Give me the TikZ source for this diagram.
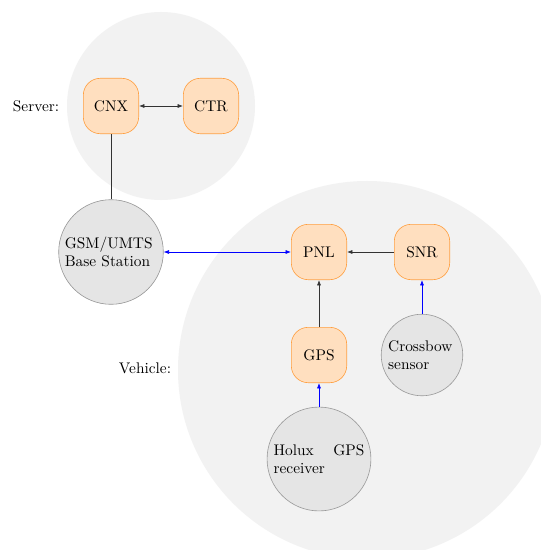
\documentclass[tikz,border=0pt]{standalone}
\usetikzlibrary{arrows.meta}
\begin{document}
\begin{tikzpicture}[x=0.65pt,y=-0.65pt,
  region/.style={circle,fill=black!5,draw=none},
  proc/.style={rectangle,rounded corners=11pt,draw=orange!75,fill=orange!25,minimum width=36pt,minimum height=36pt,inner sep=2pt},
  dev/.style={circle,draw=black!40,fill=black!10,inner sep=0pt,align=justify},
  blk/.style={draw=black!80,thin},
  blu/.style={draw=blue,thin},
  tip/.style={-{Latex[length=3.5pt,width=2.6pt]}},
  tips/.style={{Latex[length=3.5pt,width=2.6pt]}-{Latex[length=3.5pt,width=2.6pt]}}
]
\clip (0,0) rectangle (541,550);
\useasboundingbox (0,0) rectangle (541,550);
\fill[white] (0,0) rectangle (541,550);
\node[region,minimum size=122.2pt] (srv) at (161,106) {};
\node[region,minimum size=245.7pt] (veh) at (367,370) {};
\node (srvl) at (36,106) {Server:};
\node (vehl) at (145,368) {Vehicle:};
\node[proc] (cnx) at (111,106) {CNX};
\node[proc] (ctr) at (211,106) {CTR};
\node[dev,minimum size=68pt,text width=60pt] (gsm) at (111,252) {GSM/UMTS Base Station};
\node[proc] (pnl) at (319,252) {PNL};
\node[proc] (snr) at (422,252) {SNR};
\node[proc] (gps) at (319,355) {GPS};
\node[dev,minimum size=53pt,text width=44pt] (xbow) at (422,355) {Crossbow sensor};
\node[dev,minimum size=67.5pt,text width=59pt] (holux) at (319,459) {Holux GPS receiver};
\draw[blk,tips] (cnx) -- (ctr);
\draw[blk,semithick] (cnx) -- (gsm);
\draw[blu,tips] (gsm) -- (pnl);
\draw[blk,tip] (snr) -- (pnl);
\draw[blk,tip] (gps) -- (pnl);
\draw[blu,tip] (xbow) -- (snr);
\draw[blu,tip] (holux) -- (gps);
\end{tikzpicture}
\end{document}
